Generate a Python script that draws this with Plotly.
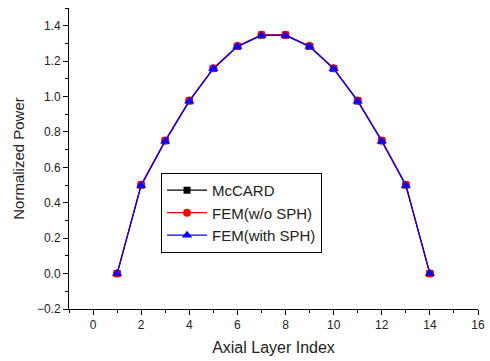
import plotly.graph_objects as go

layers = [1, 2, 3, 4, 5, 6, 7, 8, 9, 10, 11, 12, 13, 14]
mccard = [0.0, 0.50, 0.75, 0.975, 1.158, 1.283, 1.347, 1.347, 1.283, 1.158, 0.975, 0.75, 0.50, 0.0]
fem_wo_sph = [0.0, 0.502, 0.752, 0.977, 1.160, 1.285, 1.349, 1.349, 1.285, 1.160, 0.977, 0.752, 0.502, 0.0]
fem_with_sph = [0.0, 0.498, 0.748, 0.974, 1.157, 1.282, 1.345, 1.345, 1.282, 1.157, 0.974, 0.748, 0.498, 0.0]

fig = go.Figure()
fig.add_trace(go.Scatter(x=layers, y=mccard, name="McCARD", mode="lines+markers",
                         line=dict(color="black", width=1.2),
                         marker=dict(symbol="square", size=7, color="black")))
fig.add_trace(go.Scatter(x=layers, y=fem_wo_sph, name="FEM(w/o SPH)", mode="lines+markers",
                         line=dict(color="red", width=1.2),
                         marker=dict(symbol="circle", size=8, color="red")))
fig.add_trace(go.Scatter(x=layers, y=fem_with_sph, name="FEM(with SPH)", mode="lines+markers",
                         line=dict(color="blue", width=1.2),
                         marker=dict(symbol="triangle-up", size=9, color="blue")))

axis_common = dict(showline=True, linecolor="black", linewidth=1, showgrid=False, zeroline=False,
                   ticks="outside", ticklen=5, tickcolor="black", automargin=False,
                   tickfont=dict(family="Liberation Sans, Arial", size=12, color="#222"),
                   mirror=False)

fig.update_layout(
    width=490, height=361,
    margin=dict(l=69, r=12, t=8, b=52),
    plot_bgcolor="white", paper_bgcolor="white",
    font=dict(family="Liberation Sans, Arial", color="#222"),
    xaxis=dict(range=[-1, 16.0001], tickvals=[0, 2, 4, 6, 8, 10, 12, 14, 16],
               minor=dict(tickvals=[-1, 1, 3, 5, 7, 9, 11, 13, 15], ticks="outside", ticklen=3, tickcolor="black"),
               title=dict(text="Axial Layer Index", font=dict(size=16), standoff=10),
               **axis_common),
    yaxis=dict(range=[-0.2, 1.5], dtick=0.2, tick0=0, tickformat=".1f",
               minor=dict(dtick=0.1, ticks="outside", ticklen=3, tickcolor="black"),
               title=dict(text="Normalized Power", font=dict(size=15), standoff=8),
               **axis_common),
    legend=dict(x=0.225, y=0.452, xanchor="left", yanchor="top",
                bordercolor="black", borderwidth=1, bgcolor="white",
                font=dict(size=15, family="Liberation Sans, Arial", color="#222"),
                tracegroupgap=0, itemwidth=40),
    showlegend=True,
)

fig.write_html("out.html", config={"displayModeBar": False},
               post_script="document.body.style.margin='0';document.body.style.overflow='hidden';")
